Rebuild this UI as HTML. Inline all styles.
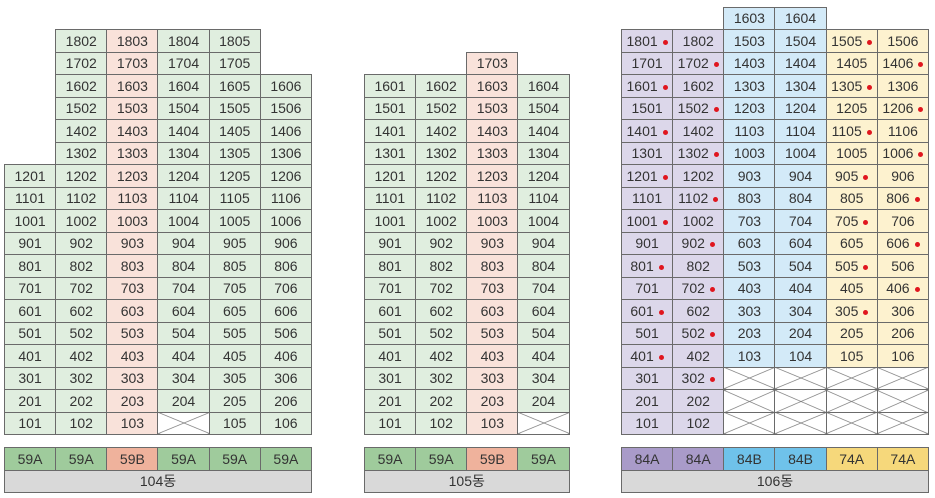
<!DOCTYPE html>
<html><head><meta charset="utf-8"><style>
body{margin:0;width:935px;height:498px;background:#fff;position:relative;overflow:hidden;font-family:"Liberation Sans","Noto Sans CJK KR",sans-serif;}
table{position:absolute;border-collapse:collapse;table-layout:fixed;}
td{border:1px solid #6a6a6a;height:21.5px;padding:0;text-align:center;font-size:14px;color:#333;line-height:20px;white-space:nowrap;}
td.e{border:none;background:transparent;}
.g{background:#e0eedf}.p{background:#f9e2da}.v{background:#dcd7ea}.b{background:#d3eaf8}.y{background:#fdf2cf}
td.x{background:linear-gradient(to top right,transparent calc(50% - .7px),#777 50%,transparent calc(50% + .7px)),linear-gradient(to bottom right,transparent calc(50% - .7px),#777 50%,transparent calc(50% + .7px)),#fff;}
i{display:inline-block;width:5px;height:5px;border-radius:50%;background:#e0161e;margin-left:5px;vertical-align:middle;}
.G{background:#9fcb9c}.P{background:#efb29c}.V{background:#a99bc9}.B{background:#6fc2ea}.Y{background:#f6d87b}.N{background:#d9d9d9}
</style></head><body>

<table style="left:4px;top:29px;width:308px">
<colgroup><col><col><col><col><col><col></colgroup>
<tr><td class="e"></td><td class="g">1802</td><td class="p">1803</td><td class="g">1804</td><td class="g">1805</td><td class="e"></td></tr>
<tr><td class="e"></td><td class="g">1702</td><td class="p">1703</td><td class="g">1704</td><td class="g">1705</td><td class="e"></td></tr>
<tr><td class="e"></td><td class="g">1602</td><td class="p">1603</td><td class="g">1604</td><td class="g">1605</td><td class="g">1606</td></tr>
<tr><td class="e"></td><td class="g">1502</td><td class="p">1503</td><td class="g">1504</td><td class="g">1505</td><td class="g">1506</td></tr>
<tr><td class="e"></td><td class="g">1402</td><td class="p">1403</td><td class="g">1404</td><td class="g">1405</td><td class="g">1406</td></tr>
<tr><td class="e"></td><td class="g">1302</td><td class="p">1303</td><td class="g">1304</td><td class="g">1305</td><td class="g">1306</td></tr>
<tr><td class="g">1201</td><td class="g">1202</td><td class="p">1203</td><td class="g">1204</td><td class="g">1205</td><td class="g">1206</td></tr>
<tr><td class="g">1101</td><td class="g">1102</td><td class="p">1103</td><td class="g">1104</td><td class="g">1105</td><td class="g">1106</td></tr>
<tr><td class="g">1001</td><td class="g">1002</td><td class="p">1003</td><td class="g">1004</td><td class="g">1005</td><td class="g">1006</td></tr>
<tr><td class="g">901</td><td class="g">902</td><td class="p">903</td><td class="g">904</td><td class="g">905</td><td class="g">906</td></tr>
<tr><td class="g">801</td><td class="g">802</td><td class="p">803</td><td class="g">804</td><td class="g">805</td><td class="g">806</td></tr>
<tr><td class="g">701</td><td class="g">702</td><td class="p">703</td><td class="g">704</td><td class="g">705</td><td class="g">706</td></tr>
<tr><td class="g">601</td><td class="g">602</td><td class="p">603</td><td class="g">604</td><td class="g">605</td><td class="g">606</td></tr>
<tr><td class="g">501</td><td class="g">502</td><td class="p">503</td><td class="g">504</td><td class="g">505</td><td class="g">506</td></tr>
<tr><td class="g">401</td><td class="g">402</td><td class="p">403</td><td class="g">404</td><td class="g">405</td><td class="g">406</td></tr>
<tr><td class="g">301</td><td class="g">302</td><td class="p">303</td><td class="g">304</td><td class="g">305</td><td class="g">306</td></tr>
<tr><td class="g">201</td><td class="g">202</td><td class="p">203</td><td class="g">204</td><td class="g">205</td><td class="g">206</td></tr>
<tr><td class="g">101</td><td class="g">102</td><td class="p">103</td><td class="x"></td><td class="g">105</td><td class="g">106</td></tr>
</table>

<table style="left:364px;top:51.5px;width:205.5px">
<colgroup><col><col><col><col></colgroup>
<tr><td class="e"></td><td class="e"></td><td class="p">1703</td><td class="e"></td></tr>
<tr><td class="g">1601</td><td class="g">1602</td><td class="p">1603</td><td class="g">1604</td></tr>
<tr><td class="g">1501</td><td class="g">1502</td><td class="p">1503</td><td class="g">1504</td></tr>
<tr><td class="g">1401</td><td class="g">1402</td><td class="p">1403</td><td class="g">1404</td></tr>
<tr><td class="g">1301</td><td class="g">1302</td><td class="p">1303</td><td class="g">1304</td></tr>
<tr><td class="g">1201</td><td class="g">1202</td><td class="p">1203</td><td class="g">1204</td></tr>
<tr><td class="g">1101</td><td class="g">1102</td><td class="p">1103</td><td class="g">1104</td></tr>
<tr><td class="g">1001</td><td class="g">1002</td><td class="p">1003</td><td class="g">1004</td></tr>
<tr><td class="g">901</td><td class="g">902</td><td class="p">903</td><td class="g">904</td></tr>
<tr><td class="g">801</td><td class="g">802</td><td class="p">803</td><td class="g">804</td></tr>
<tr><td class="g">701</td><td class="g">702</td><td class="p">703</td><td class="g">704</td></tr>
<tr><td class="g">601</td><td class="g">602</td><td class="p">603</td><td class="g">604</td></tr>
<tr><td class="g">501</td><td class="g">502</td><td class="p">503</td><td class="g">504</td></tr>
<tr><td class="g">401</td><td class="g">402</td><td class="p">403</td><td class="g">404</td></tr>
<tr><td class="g">301</td><td class="g">302</td><td class="p">303</td><td class="g">304</td></tr>
<tr><td class="g">201</td><td class="g">202</td><td class="p">203</td><td class="g">204</td></tr>
<tr><td class="g">101</td><td class="g">102</td><td class="p">103</td><td class="x"></td></tr>
</table>

<table style="left:621px;top:6.5px;width:308px">
<colgroup><col><col><col><col><col><col></colgroup>
<tr><td class="e"></td><td class="e"></td><td class="b">1603</td><td class="b">1604</td><td class="e"></td><td class="e"></td></tr>
<tr><td class="v">1801<i></i></td><td class="v">1802</td><td class="b">1503</td><td class="b">1504</td><td class="y">1505<i></i></td><td class="y">1506</td></tr>
<tr><td class="v">1701</td><td class="v">1702<i></i></td><td class="b">1403</td><td class="b">1404</td><td class="y">1405</td><td class="y">1406<i></i></td></tr>
<tr><td class="v">1601<i></i></td><td class="v">1602</td><td class="b">1303</td><td class="b">1304</td><td class="y">1305<i></i></td><td class="y">1306</td></tr>
<tr><td class="v">1501</td><td class="v">1502<i></i></td><td class="b">1203</td><td class="b">1204</td><td class="y">1205</td><td class="y">1206<i></i></td></tr>
<tr><td class="v">1401<i></i></td><td class="v">1402</td><td class="b">1103</td><td class="b">1104</td><td class="y">1105<i></i></td><td class="y">1106</td></tr>
<tr><td class="v">1301</td><td class="v">1302<i></i></td><td class="b">1003</td><td class="b">1004</td><td class="y">1005</td><td class="y">1006<i></i></td></tr>
<tr><td class="v">1201<i></i></td><td class="v">1202</td><td class="b">903</td><td class="b">904</td><td class="y">905<i></i></td><td class="y">906</td></tr>
<tr><td class="v">1101</td><td class="v">1102<i></i></td><td class="b">803</td><td class="b">804</td><td class="y">805</td><td class="y">806<i></i></td></tr>
<tr><td class="v">1001<i></i></td><td class="v">1002</td><td class="b">703</td><td class="b">704</td><td class="y">705<i></i></td><td class="y">706</td></tr>
<tr><td class="v">901</td><td class="v">902<i></i></td><td class="b">603</td><td class="b">604</td><td class="y">605</td><td class="y">606<i></i></td></tr>
<tr><td class="v">801<i></i></td><td class="v">802</td><td class="b">503</td><td class="b">504</td><td class="y">505<i></i></td><td class="y">506</td></tr>
<tr><td class="v">701</td><td class="v">702<i></i></td><td class="b">403</td><td class="b">404</td><td class="y">405</td><td class="y">406<i></i></td></tr>
<tr><td class="v">601<i></i></td><td class="v">602</td><td class="b">303</td><td class="b">304</td><td class="y">305<i></i></td><td class="y">306</td></tr>
<tr><td class="v">501</td><td class="v">502<i></i></td><td class="b">203</td><td class="b">204</td><td class="y">205</td><td class="y">206</td></tr>
<tr><td class="v">401<i></i></td><td class="v">402</td><td class="b">103</td><td class="b">104</td><td class="y">105</td><td class="y">106</td></tr>
<tr><td class="v">301</td><td class="v">302<i></i></td><td class="x"></td><td class="x"></td><td class="x"></td><td class="x"></td></tr>
<tr><td class="v">201</td><td class="v">202</td><td class="x"></td><td class="x"></td><td class="x"></td><td class="x"></td></tr>
<tr><td class="v">101</td><td class="v">102</td><td class="x"></td><td class="x"></td><td class="x"></td><td class="x"></td></tr>
</table>

<table style="left:4px;top:447px;width:308px">
<colgroup><col><col><col><col><col><col></colgroup>
<tr><td class="G">59A</td><td class="G">59A</td><td class="P">59B</td><td class="G">59A</td><td class="G">59A</td><td class="G">59A</td></tr>
<tr><td class="N" colspan="6">104동</td></tr>
</table>
<table style="left:364px;top:447px;width:205.5px">
<colgroup><col><col><col><col></colgroup>
<tr><td class="G">59A</td><td class="G">59A</td><td class="P">59B</td><td class="G">59A</td></tr>
<tr><td class="N" colspan="4">105동</td></tr>
</table>
<table style="left:621px;top:447px;width:308px">
<colgroup><col><col><col><col><col><col></colgroup>
<tr><td class="V">84A</td><td class="V">84A</td><td class="B">84B</td><td class="B">84B</td><td class="Y">74A</td><td class="Y">74A</td></tr>
<tr><td class="N" colspan="6">106동</td></tr>
</table>
</body></html>
